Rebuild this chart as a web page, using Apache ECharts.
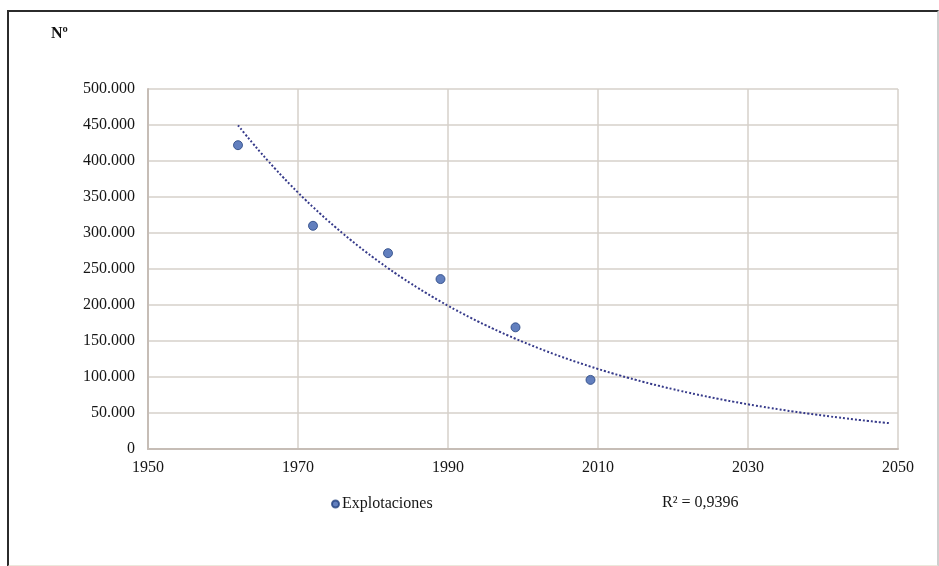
<!DOCTYPE html>
<html>
<head>
<meta charset="utf-8">
<script src="https://cdn.jsdelivr.net/npm/echarts@6/dist/echarts.min.js"></script>
<style>
  html, body { margin: 0; padding: 0; background: #fff; }
  #frame { position: absolute; left: 7px; top: 10px; width: 928px; height: 553px;
           border: 2px solid #2b2b2b; border-right-color: #cfcfcf; border-bottom-color: #ece8dc; }
  #myChart { position: absolute; left: 0; top: 0; width: 939px; height: 566px; }
</style>
</head>
<body>
<div id="frame"></div>
<div id="myChart"></div>
<script>
// datos
const years = [1962, 1972, 1982, 1989, 1999, 2009];
const explotaciones = [422000, 310000, 272000, 236000, 169000, 96000];
const yearTicks = [1950, 1970, 1990, 2010, 2030, 2050];
const r2Label = 'R² = 0,9396';

// linea de tendencia exponencial (minimos cuadrados sobre ln y), como la de Excel
function expTrend(xs, ys, from, to) {
    const n = xs.length;
    const ly = ys.map(v => Math.log(v));
    const mx = xs.reduce((a, b) => a + b, 0) / n;
    const my = ly.reduce((a, b) => a + b, 0) / n;
    let sxy = 0, sxx = 0;
    for (let i = 0; i < n; i++) {
        sxy += (xs[i] - mx) * (ly[i] - my);
        sxx += (xs[i] - mx) * (xs[i] - mx);
    }
    const b = sxy / sxx;
    const a = my - b * mx;
    const pts = [];
    for (let x = from; x <= to; x += 1) pts.push([x, Math.exp(a + b * x)]);
    return pts;
}
const trend = expTrend(years, explotaciones, years[0], 2049);

const serif = '"Liberation Serif", "Times New Roman", serif';
const gridColor = '#d6d0ca';
const txt = '#151515';

let myChart = echarts.init(document.getElementById('myChart'));
let option = {
    backgroundColor: 'transparent',
    animation: false,
    textStyle: { fontFamily: serif },
    grid: { left: 148, right: 41, top: 89, bottom: 117 },
    legend: {
        data: [{ name: 'Explotaciones', icon: 'circle' }],
        left: 331, top: 496, padding: 0,
        itemWidth: 7, itemHeight: 7, itemGap: 3,
        textStyle: { fontFamily: serif, fontSize: 16, color: txt, padding: [0, 0, 0, -2] }
    },
    graphic: [
        { type: 'text', left: 51, top: 26,
          style: { text: 'Nº', font: 'bold 16px ' + serif, fill: '#111' } },
        { type: 'text', left: 662, top: 495,
          style: { text: r2Label, font: '16px ' + serif, fill: txt } }
    ],
    xAxis: {
        type: 'value', min: 1950, max: 2050, interval: 20,
        axisLine: { show: true, lineStyle: { color: '#c6bdb6', width: 2 } },
        axisTick: { show: false },
        axisLabel: { margin: 11, fontSize: 16, color: txt, fontFamily: serif,
                     formatter: v => yearTicks.includes(v) ? String(v) : '' },
        splitLine: { show: true, lineStyle: { color: gridColor, width: 1.5 } }
    },
    yAxis: {
        type: 'value', min: 0, max: 500000, interval: 50000,
        axisLine: { show: true, lineStyle: { color: '#c6bdb6', width: 2 } },
        axisTick: { show: false },
        axisLabel: { margin: 13, fontSize: 16, color: txt, fontFamily: serif,
                     formatter: v => v === 0 ? '0' : (v / 1000).toFixed(0) + '.000' },
        splitLine: { show: true, lineStyle: { color: gridColor, width: 1.5 } }
    },
    series: [
        {
            name: 'Explotaciones',
            type: 'scatter',
            symbolSize: 9,
            itemStyle: { color: '#3b5fae', borderColor: '#24427f', borderWidth: 1 },
            data: years.map((y, i) => [y, explotaciones[i]]),
            z: 3
        },
        {
            name: 'Tendencia',
            type: 'line',
            showSymbol: false,
            smooth: true,
            lineStyle: { color: '#363a8a', width: 2, type: [2, 2] },
            data: trend,
            z: 2
        }
    ]
};
myChart.setOption(option);
</script>
</body>
</html>
